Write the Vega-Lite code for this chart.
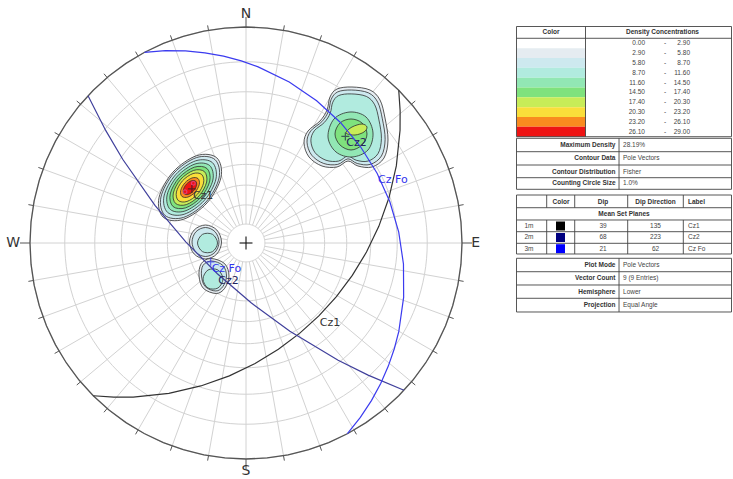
{
"$schema": "https://vega.github.io/schema/vega-lite/v6.json",
"width": 733, "height": 479, "padding": 0, "autosize": {"type": "none"},
"background": "white",
"config": {"view": {"stroke": null}},
"projection": {"type": "stereographic", "rotate": [0, -90, 0], "scale": 216, "translate": [246, 243]},
"layer": [
{"data": {"graticule": {"extentMajor": [[-180, 0], [180, 80.01]], "extentMinor": [[-180, 0], [180, 80.01]], "stepMinor": [10, 10], "stepMajor": [90, 360]}},
 "mark": {"type": "geoshape", "filled": false, "stroke": "#d2d2d2", "strokeWidth": 1}},
{"data": {"values": [
{"id":"a1","lv":1,"i":0,"x":-0.1354,"y":0.3945},{"id":"a1","lv":1,"i":1,"x":-0.2276,"y":0.4046},{"id":"a1","lv":1,"i":2,"x":-0.3384,"y":0.3281},{"id":"a1","lv":1,"i":3,"x":-0.4028,"y":0.2100},{"id":"a1","lv":1,"i":4,"x":-0.3832,"y":0.1193},{"id":"a1","lv":1,"i":5,"x":-0.2910,"y":0.1092},{"id":"a1","lv":1,"i":6,"x":-0.1802,"y":0.1857},{"id":"a1","lv":1,"i":7,"x":-0.1158,"y":0.3038},
{"id":"a2","lv":2,"i":0,"x":-0.1432,"y":0.3859},{"id":"a2","lv":2,"i":1,"x":-0.2296,"y":0.3953},{"id":"a2","lv":2,"i":2,"x":-0.3335,"y":0.3237},{"id":"a2","lv":2,"i":3,"x":-0.3938,"y":0.2129},{"id":"a2","lv":2,"i":4,"x":-0.3754,"y":0.1279},{"id":"a2","lv":2,"i":5,"x":-0.2890,"y":0.1185},{"id":"a2","lv":2,"i":6,"x":-0.1851,"y":0.1901},{"id":"a2","lv":2,"i":7,"x":-0.1248,"y":0.3009},
{"id":"a3","lv":3,"i":0,"x":-0.1555,"y":0.3721},{"id":"a3","lv":3,"i":1,"x":-0.2328,"y":0.3806},{"id":"a3","lv":3,"i":2,"x":-0.3256,"y":0.3166},{"id":"a3","lv":3,"i":3,"x":-0.3795,"y":0.2176},{"id":"a3","lv":3,"i":4,"x":-0.3631,"y":0.1417},{"id":"a3","lv":3,"i":5,"x":-0.2858,"y":0.1332},{"id":"a3","lv":3,"i":6,"x":-0.1930,"y":0.1972},{"id":"a3","lv":3,"i":7,"x":-0.1391,"y":0.2962},
{"id":"a4","lv":4,"i":0,"x":-0.1679,"y":0.3584},{"id":"a4","lv":4,"i":1,"x":-0.2359,"y":0.3658},{"id":"a4","lv":4,"i":2,"x":-0.3177,"y":0.3095},{"id":"a4","lv":4,"i":3,"x":-0.3652,"y":0.2223},{"id":"a4","lv":4,"i":4,"x":-0.3507,"y":0.1554},{"id":"a4","lv":4,"i":5,"x":-0.2827,"y":0.1480},{"id":"a4","lv":4,"i":6,"x":-0.2009,"y":0.2043},{"id":"a4","lv":4,"i":7,"x":-0.1534,"y":0.2915},
{"id":"a5","lv":5,"i":0,"x":-0.1803,"y":0.3446},{"id":"a5","lv":5,"i":1,"x":-0.2391,"y":0.3511},{"id":"a5","lv":5,"i":2,"x":-0.3098,"y":0.3023},{"id":"a5","lv":5,"i":3,"x":-0.3508,"y":0.2270},{"id":"a5","lv":5,"i":4,"x":-0.3383,"y":0.1692},{"id":"a5","lv":5,"i":5,"x":-0.2795,"y":0.1627},{"id":"a5","lv":5,"i":6,"x":-0.2088,"y":0.2115},{"id":"a5","lv":5,"i":7,"x":-0.1678,"y":0.2868},
{"id":"a6","lv":6,"i":0,"x":-0.1927,"y":0.3308},{"id":"a6","lv":6,"i":1,"x":-0.2423,"y":0.3362},{"id":"a6","lv":6,"i":2,"x":-0.3018,"y":0.2952},{"id":"a6","lv":6,"i":3,"x":-0.3364,"y":0.2317},{"id":"a6","lv":6,"i":4,"x":-0.3259,"y":0.1830},{"id":"a6","lv":6,"i":5,"x":-0.2763,"y":0.1776},{"id":"a6","lv":6,"i":6,"x":-0.2168,"y":0.2186},{"id":"a6","lv":6,"i":7,"x":-0.1822,"y":0.2821},
{"id":"a7","lv":7,"i":0,"x":-0.2051,"y":0.3171},{"id":"a7","lv":7,"i":1,"x":-0.2454,"y":0.3215},{"id":"a7","lv":7,"i":2,"x":-0.2939,"y":0.2881},{"id":"a7","lv":7,"i":3,"x":-0.3221,"y":0.2364},{"id":"a7","lv":7,"i":4,"x":-0.3135,"y":0.1967},{"id":"a7","lv":7,"i":5,"x":-0.2732,"y":0.1923},{"id":"a7","lv":7,"i":6,"x":-0.2247,"y":0.2257},{"id":"a7","lv":7,"i":7,"x":-0.1965,"y":0.2774},
{"id":"a8","lv":8,"i":0,"x":-0.2221,"y":0.2982},{"id":"a8","lv":8,"i":1,"x":-0.2498,"y":0.3012},{"id":"a8","lv":8,"i":2,"x":-0.2831,"y":0.2783},{"id":"a8","lv":8,"i":3,"x":-0.3024,"y":0.2428},{"id":"a8","lv":8,"i":4,"x":-0.2965,"y":0.2156},{"id":"a8","lv":8,"i":5,"x":-0.2688,"y":0.2126},{"id":"a8","lv":8,"i":6,"x":-0.2355,"y":0.2355},{"id":"a8","lv":8,"i":7,"x":-0.2162,"y":0.2710},
{"id":"a9","lv":9,"i":0,"x":-0.2329,"y":0.2862},{"id":"a9","lv":9,"i":1,"x":-0.2526,"y":0.2883},{"id":"a9","lv":9,"i":2,"x":-0.2761,"y":0.2721},{"id":"a9","lv":9,"i":3,"x":-0.2898,"y":0.2469},{"id":"a9","lv":9,"i":4,"x":-0.2857,"y":0.2276},{"id":"a9","lv":9,"i":5,"x":-0.2660,"y":0.2255},{"id":"a9","lv":9,"i":6,"x":-0.2425,"y":0.2417},{"id":"a9","lv":9,"i":7,"x":-0.2288,"y":0.2669},
{"id":"b1","lv":1,"i":0,"x":0.4213,"y":0.7129},{"id":"b1","lv":1,"i":1,"x":0.4907,"y":0.7222},{"id":"b1","lv":1,"i":2,"x":0.5741,"y":0.7083},{"id":"b1","lv":1,"i":3,"x":0.6204,"y":0.6620},{"id":"b1","lv":1,"i":4,"x":0.6435,"y":0.5787},{"id":"b1","lv":1,"i":5,"x":0.6574,"y":0.4768},{"id":"b1","lv":1,"i":6,"x":0.6389,"y":0.3935},{"id":"b1","lv":1,"i":7,"x":0.5833,"y":0.3518},{"id":"b1","lv":1,"i":8,"x":0.5185,"y":0.3564},{"id":"b1","lv":1,"i":9,"x":0.4722,"y":0.3796},{"id":"b1","lv":1,"i":10,"x":0.4213,"y":0.3518},{"id":"b1","lv":1,"i":11,"x":0.3519,"y":0.3564},{"id":"b1","lv":1,"i":12,"x":0.2917,"y":0.3981},{"id":"b1","lv":1,"i":13,"x":0.2685,"y":0.4629},{"id":"b1","lv":1,"i":14,"x":0.2870,"y":0.5185},{"id":"b1","lv":1,"i":15,"x":0.3426,"y":0.5648},{"id":"b1","lv":1,"i":16,"x":0.3750,"y":0.6157},{"id":"b1","lv":1,"i":17,"x":0.3889,"y":0.6759},
{"id":"b2","lv":2,"i":0,"x":0.4245,"y":0.6996},{"id":"b2","lv":2,"i":1,"x":0.4891,"y":0.7083},{"id":"b2","lv":2,"i":2,"x":0.5666,"y":0.6953},{"id":"b2","lv":2,"i":3,"x":0.6097,"y":0.6523},{"id":"b2","lv":2,"i":4,"x":0.6312,"y":0.5748},{"id":"b2","lv":2,"i":5,"x":0.6441,"y":0.4800},{"id":"b2","lv":2,"i":6,"x":0.6269,"y":0.4026},{"id":"b2","lv":2,"i":7,"x":0.5752,"y":0.3638},{"id":"b2","lv":2,"i":8,"x":0.5149,"y":0.3681},{"id":"b2","lv":2,"i":9,"x":0.4719,"y":0.3896},{"id":"b2","lv":2,"i":10,"x":0.4245,"y":0.3638},{"id":"b2","lv":2,"i":11,"x":0.3600,"y":0.3681},{"id":"b2","lv":2,"i":12,"x":0.3040,"y":0.4068},{"id":"b2","lv":2,"i":13,"x":0.2824,"y":0.4671},{"id":"b2","lv":2,"i":14,"x":0.2996,"y":0.5188},{"id":"b2","lv":2,"i":15,"x":0.3513,"y":0.5619},{"id":"b2","lv":2,"i":16,"x":0.3815,"y":0.6092},{"id":"b2","lv":2,"i":17,"x":0.3944,"y":0.6652},
{"id":"b3","lv":3,"i":0,"x":0.4287,"y":0.6825},{"id":"b3","lv":3,"i":1,"x":0.4870,"y":0.6903},{"id":"b3","lv":3,"i":2,"x":0.5571,"y":0.6787},{"id":"b3","lv":3,"i":3,"x":0.5959,"y":0.6398},{"id":"b3","lv":3,"i":4,"x":0.6154,"y":0.5698},{"id":"b3","lv":3,"i":5,"x":0.6270,"y":0.4842},{"id":"b3","lv":3,"i":6,"x":0.6115,"y":0.4142},{"id":"b3","lv":3,"i":7,"x":0.5648,"y":0.3792},{"id":"b3","lv":3,"i":8,"x":0.5104,"y":0.3831},{"id":"b3","lv":3,"i":9,"x":0.4715,"y":0.4026},{"id":"b3","lv":3,"i":10,"x":0.4287,"y":0.3792},{"id":"b3","lv":3,"i":11,"x":0.3704,"y":0.3831},{"id":"b3","lv":3,"i":12,"x":0.3198,"y":0.4181},{"id":"b3","lv":3,"i":13,"x":0.3004,"y":0.4725},{"id":"b3","lv":3,"i":14,"x":0.3159,"y":0.5192},{"id":"b3","lv":3,"i":15,"x":0.3626,"y":0.5581},{"id":"b3","lv":3,"i":16,"x":0.3898,"y":0.6009},{"id":"b3","lv":3,"i":17,"x":0.4015,"y":0.6514},
{"id":"b4","lv":4,"i":0,"x":0.4815,"y":0.6065},{"id":"b4","lv":4,"i":1,"x":0.5556,"y":0.5833},{"id":"b4","lv":4,"i":2,"x":0.5880,"y":0.5093},{"id":"b4","lv":4,"i":3,"x":0.5648,"y":0.4306},{"id":"b4","lv":4,"i":4,"x":0.4907,"y":0.3981},{"id":"b4","lv":4,"i":5,"x":0.4167,"y":0.4213},{"id":"b4","lv":4,"i":6,"x":0.3796,"y":0.4907},{"id":"b4","lv":4,"i":7,"x":0.4074,"y":0.5741},
{"id":"b5","lv":5,"i":0,"x":0.4861,"y":0.5741},{"id":"b5","lv":5,"i":1,"x":0.5370,"y":0.5556},{"id":"b5","lv":5,"i":2,"x":0.5602,"y":0.5046},{"id":"b5","lv":5,"i":3,"x":0.5370,"y":0.4537},{"id":"b5","lv":5,"i":4,"x":0.4861,"y":0.4306},{"id":"b5","lv":5,"i":5,"x":0.4352,"y":0.4537},{"id":"b5","lv":5,"i":6,"x":0.4120,"y":0.5046},{"id":"b5","lv":5,"i":7,"x":0.4352,"y":0.5556},
{"id":"b6","lv":6,"i":0,"x":0.4630,"y":0.5093},{"id":"b6","lv":6,"i":1,"x":0.4907,"y":0.5370},{"id":"b6","lv":6,"i":2,"x":0.5370,"y":0.5509},{"id":"b6","lv":6,"i":3,"x":0.5602,"y":0.5370},{"id":"b6","lv":6,"i":4,"x":0.5463,"y":0.5139},{"id":"b6","lv":6,"i":5,"x":0.5046,"y":0.5000},
{"id":"c1","lv":1,"i":0,"x":-0.1134,"y":0.0046},{"id":"c1","lv":1,"i":1,"x":-0.1351,"y":0.0602},{"id":"c1","lv":1,"i":2,"x":-0.1875,"y":0.0833},{"id":"c1","lv":1,"i":3,"x":-0.2399,"y":0.0602},{"id":"c1","lv":1,"i":4,"x":-0.2616,"y":0.0046},{"id":"c1","lv":1,"i":5,"x":-0.2399,"y":-0.0510},{"id":"c1","lv":1,"i":6,"x":-0.1875,"y":-0.0741},{"id":"c1","lv":1,"i":7,"x":-0.1351,"y":-0.0510},
{"id":"c2","lv":2,"i":0,"x":-0.1250,"y":0.0046},{"id":"c2","lv":2,"i":1,"x":-0.1433,"y":0.0521},{"id":"c2","lv":2,"i":2,"x":-0.1875,"y":0.0717},{"id":"c2","lv":2,"i":3,"x":-0.2317,"y":0.0521},{"id":"c2","lv":2,"i":4,"x":-0.2500,"y":0.0046},{"id":"c2","lv":2,"i":5,"x":-0.2317,"y":-0.0429},{"id":"c2","lv":2,"i":6,"x":-0.1875,"y":-0.0625},{"id":"c2","lv":2,"i":7,"x":-0.1433,"y":-0.0429},
{"id":"c3","lv":3,"i":0,"x":-0.1319,"y":0.0},{"id":"c3","lv":3,"i":1,"x":-0.1551,"y":0.0401},{"id":"c3","lv":3,"i":2,"x":-0.2013,"y":0.0401},{"id":"c3","lv":3,"i":3,"x":-0.2245,"y":0.0},{"id":"c3","lv":3,"i":4,"x":-0.2013,"y":-0.0401},{"id":"c3","lv":3,"i":5,"x":-0.1551,"y":-0.0401},
{"id":"d1","lv":1,"i":0,"x":-0.0787,"y":-0.1528},{"id":"d1","lv":1,"i":1,"x":-0.0990,"y":-0.0955},{"id":"d1","lv":1,"i":2,"x":-0.1631,"y":-0.0718},{"id":"d1","lv":1,"i":3,"x":-0.2072,"y":-0.0955},{"id":"d1","lv":1,"i":4,"x":-0.2175,"y":-0.1528},{"id":"d1","lv":1,"i":5,"x":-0.1972,"y":-0.2101},{"id":"d1","lv":1,"i":6,"x":-0.1381,"y":-0.2338},{"id":"d1","lv":1,"i":7,"x":-0.0990,"y":-0.2101},
{"id":"d2","lv":2,"i":0,"x":-0.0902,"y":-0.1528},{"id":"d2","lv":2,"i":1,"x":-0.1072,"y":-0.1037},{"id":"d2","lv":2,"i":2,"x":-0.1601,"y":-0.0834},{"id":"d2","lv":2,"i":3,"x":-0.1990,"y":-0.1037},{"id":"d2","lv":2,"i":4,"x":-0.2060,"y":-0.1528},{"id":"d2","lv":2,"i":5,"x":-0.1890,"y":-0.2019},{"id":"d2","lv":2,"i":6,"x":-0.1401,"y":-0.2222},{"id":"d2","lv":2,"i":7,"x":-0.1072,"y":-0.2019},
{"id":"d3","lv":3,"i":0,"x":-0.1065,"y":-0.1667},{"id":"d3","lv":3,"i":1,"x":-0.1297,"y":-0.1250},{"id":"d3","lv":3,"i":2,"x":-0.1759,"y":-0.1250},{"id":"d3","lv":3,"i":3,"x":-0.1991,"y":-0.1667},{"id":"d3","lv":3,"i":4,"x":-0.1759,"y":-0.2084},{"id":"d3","lv":3,"i":5,"x":-0.1297,"y":-0.2084}
 ]},
 "mark": {"type": "line", "interpolate": "cardinal-closed", "stroke": "#2e2e2e", "strokeWidth": 0.8},
 "encoding": {
  "x": {"field": "x", "type": "quantitative", "scale": {"domain": [-1.1389, 2.2546], "nice": false, "zero": false}, "axis": null},
  "y": {"field": "y", "type": "quantitative", "scale": {"domain": [-1.0926, 1.125], "nice": false, "zero": false}, "axis": null},
  "order": {"field": "i", "type": "quantitative"},
  "detail": {"field": "id", "type": "nominal"},
  "fill": {"field": "lv", "type": "ordinal", "scale": {"domain": [1,2,3,4,5,6,7,8,9], "range": ["#e5ecf1","#cde9ef","#b1ebdf","#92e7b4","#7fe27d","#c8ec58","#fade3a","#f98b1f","#ee1414"]}, "legend": null}
 }},
{"data": {"values": [{"type": "Feature", "properties": {}, "geometry": {"type": "LineString", "coordinates": [[-180,0],[-90,0],[0,0],[90,0],[180,0]]}}]},
 "mark": {"type": "geoshape", "filled": false, "stroke": "#555555", "strokeWidth": 1.3}},
{"data": {"values": [
{"lon":-180,"a":0,"b":-2.6},{"lon":-170,"a":0,"b":-1.3},{"lon":-160,"a":0,"b":-1.3},{"lon":-150,"a":0,"b":-1.3},{"lon":-140,"a":0,"b":-1.3},{"lon":-130,"a":0,"b":-1.3},{"lon":-120,"a":0,"b":-1.3},{"lon":-110,"a":0,"b":-1.3},{"lon":-100,"a":0,"b":-1.3},
{"lon":-90,"a":0,"b":-2.6},{"lon":-80,"a":0,"b":-1.3},{"lon":-70,"a":0,"b":-1.3},{"lon":-60,"a":0,"b":-1.3},{"lon":-50,"a":0,"b":-1.3},{"lon":-40,"a":0,"b":-1.3},{"lon":-30,"a":0,"b":-1.3},{"lon":-20,"a":0,"b":-1.3},{"lon":-10,"a":0,"b":-1.3},
{"lon":0,"a":0,"b":-2.6},{"lon":10,"a":0,"b":-1.3},{"lon":20,"a":0,"b":-1.3},{"lon":30,"a":0,"b":-1.3},{"lon":40,"a":0,"b":-1.3},{"lon":50,"a":0,"b":-1.3},{"lon":60,"a":0,"b":-1.3},{"lon":70,"a":0,"b":-1.3},{"lon":80,"a":0,"b":-1.3},
{"lon":90,"a":0,"b":-2.6},{"lon":100,"a":0,"b":-1.3},{"lon":110,"a":0,"b":-1.3},{"lon":120,"a":0,"b":-1.3},{"lon":130,"a":0,"b":-1.3},{"lon":140,"a":0,"b":-1.3},{"lon":150,"a":0,"b":-1.3},{"lon":160,"a":0,"b":-1.3},{"lon":170,"a":0,"b":-1.3}
 ]},
 "mark": {"type": "rule", "color": "#555555", "strokeWidth": 1},
 "encoding": {"longitude": {"field": "lon", "type": "quantitative"}, "latitude": {"field": "a", "type": "quantitative"}, "longitude2": {"field": "lon"}, "latitude2": {"field": "b"}}},
{"data": {"values": [
{"type": "Feature", "properties": {"c": "#333333"}, "geometry": {"type": "LineString", "coordinates": [[135,0],[45,39],[-45,0]]}},
{"type": "Feature", "properties": {"c": "#40409c"}, "geometry": {"type": "LineString", "coordinates": [[47,0],[-43,68],[-133,0]]}},
{"type": "Feature", "properties": {"c": "#3b3bef"}, "geometry": {"type": "LineString", "coordinates": [[-152,0],[118,21],[28,0]]}}
 ]},
 "mark": {"type": "geoshape", "filled": false, "strokeWidth": 1.2},
 "encoding": {"stroke": {"field": "properties.c", "type": "nominal", "scale": null}}},
{"data": {"values": [{"x":-0.03,"y":0,"x2":0.03,"y2":0},{"x":0,"y":-0.03,"x2":0,"y2":0.03}]},
 "mark": {"type": "rule", "color": "#111111", "strokeWidth": 1.1},
 "encoding": {
  "x": {"field": "x", "type": "quantitative", "scale": {"domain": [-1.1389, 2.2546], "nice": false, "zero": false}, "axis": null},
  "y": {"field": "y", "type": "quantitative", "scale": {"domain": [-1.0926, 1.125], "nice": false, "zero": false}, "axis": null},
  "x2": {"field": "x2"}, "y2": {"field": "y2"}}},
{"data": {"values": [{"x":-0.2440,"y":0.2764},{"x":-0.2824,"y":0.2375}]},
 "mark": {"type": "point", "shape": "circle", "filled": false, "color": "#e04a9a", "size": 14, "strokeWidth": 1.2},
 "encoding": {
  "x": {"field": "x", "type": "quantitative", "scale": {"domain": [-1.1389, 2.2546], "nice": false, "zero": false}, "axis": null},
  "y": {"field": "y", "type": "quantitative", "scale": {"domain": [-1.0926, 1.125], "nice": false, "zero": false}, "axis": null}}},
{"data": {"values": [{"lon":-135,"lat":51,"c":"#222222"},{"lon":137,"lat":22,"c":"#222244"},{"lon":-62,"lat":69,"c":"#3333ee"}]},
 "mark": {"type": "point", "shape": "M-1,0L1,0M0,-1L0,1", "filled": false, "size": 64, "strokeWidth": 1.2},
 "encoding": {"longitude": {"field": "lon", "type": "quantitative"}, "latitude": {"field": "lat", "type": "quantitative"}, "stroke": {"field": "c", "type": "nominal", "scale": null}}},
{"data": {"values": [
{"t":"Cz1","lon":-135,"lat":51,"c":"#333333"},{"t":"Cz2","lon":137,"lat":22,"c":"#24245e"},{"t":"Cz Fo","lon":-62,"lat":69,"c":"#3333ee"},
{"t":"Cz1","lon":45,"lat":39,"c":"#333333"},{"t":"Cz2","lon":-43,"lat":68,"c":"#24245e"},{"t":"Cz Fo","lon":118,"lat":21,"c":"#3333ee"}]},
 "mark": {"type": "text", "align": "left", "baseline": "middle", "dx": 1, "dy": 7, "font": "DejaVu Sans", "fontSize": 11},
 "encoding": {"longitude": {"field": "lon", "type": "quantitative"}, "latitude": {"field": "lat", "type": "quantitative"}, "text": {"field": "t"}, "color": {"field": "c", "type": "nominal", "scale": null}}},
{"data": {"values": [{"t":"N","lon":180,"lat":-3.4},{"t":"E","lon":90,"lat":-3.5},{"t":"S","lon":0,"lat":-3.1},{"t":"W","lon":-90,"lat":-4.3}]},
 "mark": {"type": "text", "align": "center", "baseline": "middle", "font": "DejaVu Sans", "fontSize": 14, "color": "#333333"},
 "encoding": {"longitude": {"field": "lon", "type": "quantitative"}, "latitude": {"field": "lat", "type": "quantitative"}, "text": {"field": "t"}}},
{"data": {"values": [
{"x":1.2546,"x2":1.5718,"y":0.9477,"y2":0.9021,"c":"#ffffff"},{"x":1.2546,"x2":1.5718,"y":0.9021,"y2":0.8566,"c":"#e5ecf1"},{"x":1.2546,"x2":1.5718,"y":0.8566,"y2":0.8110,"c":"#cde9ef"},{"x":1.2546,"x2":1.5718,"y":0.8110,"y2":0.7655,"c":"#b1ebdf"},{"x":1.2546,"x2":1.5718,"y":0.7655,"y2":0.7199,"c":"#92e7b4"},{"x":1.2546,"x2":1.5718,"y":0.7199,"y2":0.6744,"c":"#7fe27d"},{"x":1.2546,"x2":1.5718,"y":0.6744,"y2":0.6288,"c":"#c8ec58"},{"x":1.2546,"x2":1.5718,"y":0.6288,"y2":0.5833,"c":"#fade3a"},{"x":1.2546,"x2":1.5718,"y":0.5833,"y2":0.5377,"c":"#f98b1f"},{"x":1.2546,"x2":1.5718,"y":0.5377,"y2":0.4921,"c":"#ee1414"},
{"x":1.4352,"x2":1.4769,"y":0.0995,"y2":0.0579,"c":"#000000"},{"x":1.4352,"x2":1.4769,"y":0.0463,"y2":0.0047,"c":"#000080"},{"x":1.4352,"x2":1.4769,"y":-0.0056,"y2":-0.0472,"c":"#0000ff"}]},
 "mark": {"type": "rect"},
 "encoding": {
  "x": {"field": "x", "type": "quantitative", "scale": {"domain": [-1.1389, 2.2546], "nice": false, "zero": false}, "axis": null},
  "y": {"field": "y", "type": "quantitative", "scale": {"domain": [-1.0926, 1.125], "nice": false, "zero": false}, "axis": null},
  "x2": {"field": "x2"}, "y2": {"field": "y2"},
  "fill": {"field": "c", "type": "nominal", "scale": null}}},
{"data": {"values": [
{"x":1.2523,"y":1.0023,"x2":2.2477,"y2":1.0023},{"x":1.2523,"y":0.9477,"x2":2.2477,"y2":0.9477},{"x":1.2523,"y":0.4921,"x2":2.2477,"y2":0.4921},
{"x":1.2523,"y":1.0023,"x2":1.2523,"y2":0.4921},{"x":1.5718,"y":1.0023,"x2":1.5718,"y2":0.4921},{"x":2.2477,"y":1.0023,"x2":2.2477,"y2":0.4921},
{"x":1.2523,"y":0.4847,"x2":2.2477,"y2":0.4847},{"x":1.2523,"y":0.4227,"x2":2.2477,"y2":0.4227},{"x":1.2523,"y":0.3611,"x2":2.2477,"y2":0.3611},{"x":1.2523,"y":0.3023,"x2":2.2477,"y2":0.3023},{"x":1.2523,"y":0.2486,"x2":2.2477,"y2":0.2486},
{"x":1.2523,"y":0.4847,"x2":1.2523,"y2":0.2486},{"x":1.7269,"y":0.4847,"x2":1.7269,"y2":0.2486},{"x":2.2477,"y":0.4847,"x2":2.2477,"y2":0.2486},
{"x":1.2523,"y":0.2222,"x2":2.2477,"y2":0.2222},{"x":1.2523,"y":0.1634,"x2":2.2477,"y2":0.1634},{"x":1.2523,"y":0.1065,"x2":2.2477,"y2":0.1065},{"x":1.2523,"y":0.0523,"x2":2.2477,"y2":0.0523},{"x":1.2523,"y":-0.0014,"x2":2.2477,"y2":-0.0014},{"x":1.2523,"y":-0.0509,"x2":2.2477,"y2":-0.0509},
{"x":1.2523,"y":0.2222,"x2":1.2523,"y2":-0.0509},{"x":2.2477,"y":0.2222,"x2":2.2477,"y2":-0.0509},
{"x":1.3921,"y":0.2222,"x2":1.3921,"y2":0.1634},{"x":1.5218,"y":0.2222,"x2":1.5218,"y2":0.1634},{"x":1.7671,"y":0.2222,"x2":1.7671,"y2":0.1634},{"x":2.0245,"y":0.2222,"x2":2.0245,"y2":0.1634},
{"x":1.3921,"y":0.1065,"x2":1.3921,"y2":-0.0509},{"x":1.5218,"y":0.1065,"x2":1.5218,"y2":-0.0509},{"x":1.7671,"y":0.1065,"x2":1.7671,"y2":-0.0509},{"x":2.0245,"y":0.1065,"x2":2.0245,"y2":-0.0509},
{"x":1.2523,"y":-0.0708,"x2":2.2477,"y2":-0.0708},{"x":1.2523,"y":-0.1329,"x2":2.2477,"y2":-0.1329},{"x":1.2523,"y":-0.1944,"x2":2.2477,"y2":-0.1944},{"x":1.2523,"y":-0.2560,"x2":2.2477,"y2":-0.2560},{"x":1.2523,"y":-0.3194,"x2":2.2477,"y2":-0.3194},
{"x":1.2523,"y":-0.0708,"x2":1.2523,"y2":-0.3194},{"x":1.7269,"y":-0.0708,"x2":1.7269,"y2":-0.3194},{"x":2.2477,"y":-0.0708,"x2":2.2477,"y2":-0.3194}
 ]},
 "mark": {"type": "rule", "color": "#444444", "strokeWidth": 0.9},
 "encoding": {
  "x": {"field": "x", "type": "quantitative", "scale": {"domain": [-1.1389, 2.2546], "nice": false, "zero": false}, "axis": null},
  "y": {"field": "y", "type": "quantitative", "scale": {"domain": [-1.0926, 1.125], "nice": false, "zero": false}, "axis": null},
  "x2": {"field": "x2"}, "y2": {"field": "y2"}}},
{"data": {"values": [
{"t":"Color","x":1.4120,"y":0.9750},{"t":"Density Concentrations","x":1.9282,"y":0.9750},
{"t":"Color","x":1.4583,"y":0.1921},{"t":"Dip","x":1.6528,"y":0.1921},{"t":"Dip Direction","x":1.8958,"y":0.1921},{"t":"Mean Set Planes","x":1.7500,"y":0.1343}]},
 "mark": {"type": "text", "align": "center", "baseline": "middle", "font": "Liberation Sans", "fontSize": 6.5, "fontWeight": "bold", "color": "#333333"},
 "encoding": {
  "x": {"field": "x", "type": "quantitative", "scale": {"domain": [-1.1389, 2.2546], "nice": false, "zero": false}, "axis": null},
  "y": {"field": "y", "type": "quantitative", "scale": {"domain": [-1.0926, 1.125], "nice": false, "zero": false}, "axis": null},
  "text": {"field": "t"}}},
{"data": {"values": [
{"t":"Maximum Density","x":1.7106,"y":0.4537},{"t":"Contour Data","x":1.7106,"y":0.3921},{"t":"Contour Distribution","x":1.7106,"y":0.3310},{"t":"Counting Circle Size","x":1.7106,"y":0.2755},
{"t":"Plot Mode","x":1.7106,"y":-0.1019},{"t":"Vector Count","x":1.7106,"y":-0.1634},{"t":"Hemisphere","x":1.7106,"y":-0.2255},{"t":"Projection","x":1.7106,"y":-0.2870}]},
 "mark": {"type": "text", "align": "right", "baseline": "middle", "font": "Liberation Sans", "fontSize": 6.5, "fontWeight": "bold", "color": "#333333"},
 "encoding": {
  "x": {"field": "x", "type": "quantitative", "scale": {"domain": [-1.1389, 2.2546], "nice": false, "zero": false}, "axis": null},
  "y": {"field": "y", "type": "quantitative", "scale": {"domain": [-1.0926, 1.125], "nice": false, "zero": false}, "axis": null},
  "text": {"field": "t"}}},
{"data": {"values": [{"t":"Label","x":2.0463,"y":0.1921}]},
 "mark": {"type": "text", "align": "left", "baseline": "middle", "font": "Liberation Sans", "fontSize": 6.5, "fontWeight": "bold", "color": "#333333"},
 "encoding": {
  "x": {"field": "x", "type": "quantitative", "scale": {"domain": [-1.1389, 2.2546], "nice": false, "zero": false}, "axis": null},
  "y": {"field": "y", "type": "quantitative", "scale": {"domain": [-1.0926, 1.125], "nice": false, "zero": false}, "axis": null},
  "text": {"field": "t"}}},
{"data": {"values": [
{"t":"28.19%","x":1.7454,"y":0.4537},{"t":"Pole Vectors","x":1.7454,"y":0.3921},{"t":"Fisher","x":1.7454,"y":0.3310},{"t":"1.0%","x":1.7454,"y":0.2755},
{"t":"Pole Vectors","x":1.7454,"y":-0.1019},{"t":"9 (9 Entries)","x":1.7454,"y":-0.1634},{"t":"Lower","x":1.7454,"y":-0.2255},{"t":"Equal Angle","x":1.7454,"y":-0.2870},
{"t":"Cz1","x":2.0463,"y":0.0787},{"t":"Cz2","x":2.0463,"y":0.0255},{"t":"Cz Fo","x":2.0463,"y":-0.0264}]},
 "mark": {"type": "text", "align": "left", "baseline": "middle", "font": "Liberation Sans", "fontSize": 6.5, "color": "#444444"},
 "encoding": {
  "x": {"field": "x", "type": "quantitative", "scale": {"domain": [-1.1389, 2.2546], "nice": false, "zero": false}, "axis": null},
  "y": {"field": "y", "type": "quantitative", "scale": {"domain": [-1.0926, 1.125], "nice": false, "zero": false}, "axis": null},
  "text": {"field": "t"}}},
{"data": {"values": [
{"t":"0.00","x":1.8472,"y":0.9249},{"t":"2.90","x":1.8472,"y":0.8794},{"t":"5.80","x":1.8472,"y":0.8338},{"t":"8.70","x":1.8472,"y":0.7883},{"t":"11.60","x":1.8472,"y":0.7427},{"t":"14.50","x":1.8472,"y":0.6971},{"t":"17.40","x":1.8472,"y":0.6516},{"t":"20.30","x":1.8472,"y":0.6060},{"t":"23.20","x":1.8472,"y":0.5605},{"t":"26.10","x":1.8472,"y":0.5149},
{"t":"2.90","x":2.0556,"y":0.9249},{"t":"5.80","x":2.0556,"y":0.8794},{"t":"8.70","x":2.0556,"y":0.8338},{"t":"11.60","x":2.0556,"y":0.7883},{"t":"14.50","x":2.0556,"y":0.7427},{"t":"17.40","x":2.0556,"y":0.6971},{"t":"20.30","x":2.0556,"y":0.6516},{"t":"23.20","x":2.0556,"y":0.6060},{"t":"26.10","x":2.0556,"y":0.5605},{"t":"29.00","x":2.0556,"y":0.5149}]},
 "mark": {"type": "text", "align": "right", "baseline": "middle", "font": "Liberation Sans", "fontSize": 6.5, "color": "#444444"},
 "encoding": {
  "x": {"field": "x", "type": "quantitative", "scale": {"domain": [-1.1389, 2.2546], "nice": false, "zero": false}, "axis": null},
  "y": {"field": "y", "type": "quantitative", "scale": {"domain": [-1.0926, 1.125], "nice": false, "zero": false}, "axis": null},
  "text": {"field": "t"}}},
{"data": {"values": [
{"t":"-","x":1.9398,"y":0.9249},{"t":"-","x":1.9398,"y":0.8794},{"t":"-","x":1.9398,"y":0.8338},{"t":"-","x":1.9398,"y":0.7883},{"t":"-","x":1.9398,"y":0.7427},{"t":"-","x":1.9398,"y":0.6971},{"t":"-","x":1.9398,"y":0.6516},{"t":"-","x":1.9398,"y":0.6060},{"t":"-","x":1.9398,"y":0.5605},{"t":"-","x":1.9398,"y":0.5149},
{"t":"1m","x":1.3102,"y":0.0787},{"t":"2m","x":1.3102,"y":0.0255},{"t":"3m","x":1.3102,"y":-0.0264},
{"t":"39","x":1.6528,"y":0.0787},{"t":"68","x":1.6528,"y":0.0255},{"t":"21","x":1.6528,"y":-0.0264},
{"t":"135","x":1.8958,"y":0.0787},{"t":"223","x":1.8958,"y":0.0255},{"t":"62","x":1.8958,"y":-0.0264}]},
 "mark": {"type": "text", "align": "center", "baseline": "middle", "font": "Liberation Sans", "fontSize": 6.5, "color": "#444444"},
 "encoding": {
  "x": {"field": "x", "type": "quantitative", "scale": {"domain": [-1.1389, 2.2546], "nice": false, "zero": false}, "axis": null},
  "y": {"field": "y", "type": "quantitative", "scale": {"domain": [-1.0926, 1.125], "nice": false, "zero": false}, "axis": null},
  "text": {"field": "t"}}}
]
}
